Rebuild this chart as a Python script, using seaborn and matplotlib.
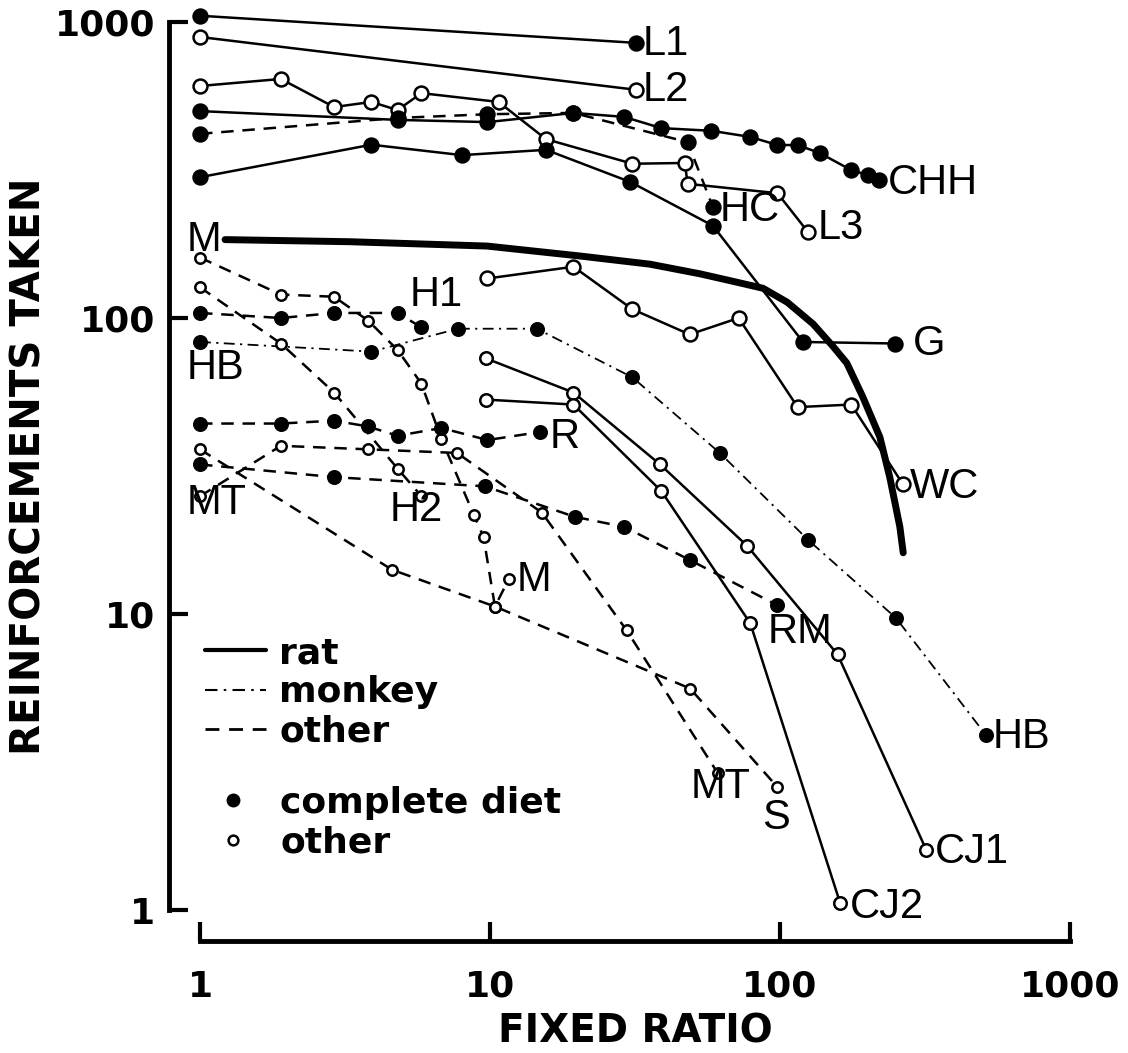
import matplotlib
matplotlib.use("Agg")
import matplotlib.pyplot as plt
from matplotlib.lines import Line2D
from matplotlib.ticker import NullLocator
import seaborn as sns

# ---------------- data ----------------
L1_x = [1, 32]
L1_y = [1050, 850]
L2_x = [1, 32]
L2_y = [890, 590]
L3_x = [1, 1.9, 2.9, 3.9, 4.8, 5.8, 10.7, 15.6, 31, 47, 48, 98, 125]
L3_y = [608, 642, 516, 537, 504, 575, 537, 402, 332, 334, 284, 264, 195]
CHH_x = [1, 4.8, 9.8, 19.4, 29, 39, 58, 79, 98, 115, 137, 176, 201, 219]
CHH_y = [500, 467, 459, 493, 478, 438, 429, 409, 384, 384, 361, 316, 304, 292]
HC_x = [1, 4.8, 9.8, 19.4, 48, 58.7]
HC_y = [419, 474, 488, 493, 393, 237]
G_x = [1, 3.9, 8, 15.6, 30.5, 58.7, 120, 250]
G_y = [299, 385, 355, 370, 288, 205, 83, 82]
CURVE_x = [1.22, 3.29, 9.77, 20.4, 35.6, 53, 68.9, 87.4, 106, 130, 152,
           170, 193, 221, 239, 259, 266]
CURVE_y = [184, 181, 175, 162, 152, 141, 133, 126, 113, 95.5, 80.4,
           70.4, 54.1, 39.6, 29, 19.7, 16.1]
WC_x = [9.8, 19.4, 31, 48.8, 72, 115, 176, 265]
WC_y = [136, 149, 107, 88, 100, 50, 51, 27.5]
HBm_x = [1, 3.9, 7.75, 14.5, 31, 62, 125, 251, 513]
HBm_y = [83, 77, 92, 92, 63, 35, 17.8, 9.7, 3.9]
H1_x = [1, 1.9, 2.9, 4.8, 5.8]
H1_y = [104, 100, 104, 104, 93]
M_x = [1, 1.9, 2.9, 3.8, 4.8, 5.8, 6.8, 8.8, 9.5, 10.4, 11.6]
M_y = [160, 120, 118, 98, 78, 60, 39, 21.6, 18.2, 10.6, 13.1]
H2_x = [1, 1.9, 2.9, 4.8, 5.8]
H2_y = [127, 82, 56, 31, 25]
R_x = [1, 1.9, 2.9, 3.8, 4.8, 6.8, 9.8, 14.9]
R_y = [44, 44, 45, 43, 40, 42.5, 38.7, 41.2]
MT_x = [1, 1.9, 3.8, 7.7, 15.1, 29.6, 61]
MT_y = [25, 37, 36, 35, 22, 8.8, 2.9]
S_x = [1, 4.6, 10.4, 49, 98]
S_y = [36, 14.1, 10.6, 5.6, 2.6]
RM_x = [1, 2.9, 9.6, 19.6, 29, 49, 98]
RM_y = [32, 29, 27, 21.3, 19.7, 15.2, 10.7]
CJ1_x = [9.7, 19.4, 38.6, 77, 158, 319]
CJ1_y = [73, 56, 32, 17, 7.3, 1.6]
CJ2_x = [9.7, 19.4, 39, 79, 161]
CJ2_y = [53, 51, 26, 9.3, 1.06]

x_ticks = [1, 10, 100, 1000]
y_ticks = [1, 10, 100, 1000]
x_tick_labels = ["1", "10", "100", "1000"]
y_tick_labels = ["1", "10", "100", "1000"]

labels = ["L1", "L2", "CHH", "HC", "L3", "M", "H1", "G", "HB", "R", "WC",
          "MT", "H2", "M", "RM", "HB", "MT", "S", "CJ1", "CJ2"]
label_x = [33.7, 33.7, 236, 62, 135, 0.9, 5.3, 288, 0.9, 16.1, 281,
           0.9, 4.5, 12.4, 91, 543, 49, 87, 342, 174]
label_y = [843, 589, 285, 232, 201, 184, 120, 82, 68, 39.6, 26.9,
           23.7, 22.4, 13, 8.7, 3.84, 2.6, 2.04, 1.57, 1.02]

# ---------------- style ----------------
sns.set_theme(style="ticks")
plt.rcParams["font.family"] = ["DejaVu Sans"]
plt.rcParams["text.color"] = "black"
plt.rcParams["axes.labelcolor"] = "black"
plt.rcParams["xtick.color"] = "black"
plt.rcParams["ytick.color"] = "black"

LS = {"rat": "-", "monkey": (0, (6, 3, 1.2, 3)), "other": (0, (5, 3.5))}
LW = {"rat": 1.8, "monkey": 1.3, "other": 1.8}

series = [
    (L1_x, L1_y, "rat", True, 10),
    (L2_x, L2_y, "rat", False, 10),
    (L3_x, L3_y, "rat", False, 10),
    (CHH_x, CHH_y, "rat", True, 10),
    (HC_x, HC_y, "other", True, 10),
    (G_x, G_y, "rat", True, 10),
    (WC_x, WC_y, "rat", False, 10),
    (HBm_x, HBm_y, "monkey", True, 9),
    (H1_x, H1_y, "other", True, 9),
    (M_x, M_y, "other", False, 7.5),
    (H2_x, H2_y, "other", False, 7.5),
    (R_x, R_y, "other", True, 9),
    (MT_x, MT_y, "other", False, 7.5),
    (S_x, S_y, "other", False, 7.5),
    (RM_x, RM_y, "other", True, 9),
    (CJ1_x, CJ1_y, "rat", False, 9),
    (CJ2_x, CJ2_y, "rat", False, 9),
]

fig = plt.figure(figsize=(11.28, 10.53), dpi=100)
ax = fig.add_axes([200 / 1128, 1 - 910 / 1053, 870 / 1128, 888 / 1053])
ax.set_xscale("log")
ax.set_yscale("log")

for xs, ys, kind, filled, ms in series:
    sns.lineplot(x=xs, y=ys, ax=ax, color="black", linestyle=LS[kind],
                 linewidth=LW[kind], marker="o", markersize=ms,
                 markerfacecolor="black" if filled else "white",
                 markeredgecolor="black", markeredgewidth=1.8,
                 sort=False, estimator=None, clip_on=False, legend=False)

sns.lineplot(x=CURVE_x, y=CURVE_y, ax=ax, color="black", linewidth=5,
             sort=False, estimator=None, clip_on=False, legend=False)

for t, lx, ly in zip(labels, label_x, label_y):
    ax.text(lx, ly, t, ha="left", va="center", fontsize=30,
            family="Liberation Sans", color="black", clip_on=False)

ax.set_xlim(1, 1000)
ax.set_ylim(1, 1000)
ax.set_xticks(x_ticks)
ax.set_yticks(y_ticks)
ax.xaxis.set_minor_locator(NullLocator())
ax.yaxis.set_minor_locator(NullLocator())

sns.despine(ax=ax, offset=22, trim=True)
for side in ("left", "bottom"):
    ax.spines[side].set_linewidth(3.5)
    ax.spines[side].set_color("black")

ax.set_xticks(x_ticks, labels=x_tick_labels, fontweight="bold", fontsize=26)
ax.set_yticks(y_ticks, labels=y_tick_labels, fontweight="bold", fontsize=26)
ax.xaxis.set_minor_locator(NullLocator())
ax.yaxis.set_minor_locator(NullLocator())
ax.tick_params(axis="both", direction="in", length=14, width=3,
               color="black", labelcolor="black")
ax.tick_params(axis="x", pad=21)
ax.tick_params(axis="y", pad=10)

ax.set_xlabel("FIXED RATIO", fontsize=28, fontweight="bold", labelpad=6,
              color="black")
ax.set_ylabel("REINFORCEMENTS TAKEN", fontsize=29, fontweight="bold",
              labelpad=4, color="black")
ax.grid(False)
ax.set_facecolor("white")

# legends
prop = {"weight": "bold", "size": 26}
h1 = [Line2D([], [], color="black", lw=3, ls=LS["rat"]),
      Line2D([], [], color="black", lw=1.5, ls=LS["monkey"]),
      Line2D([], [], color="black", lw=2, ls=LS["other"])]
leg1 = ax.legend(h1, ["rat", "monkey", "other"], loc="upper left",
                 bbox_to_anchor=(205 / 1128, 1 - 636 / 1053),
                 bbox_transform=fig.transFigure, frameon=False, prop=prop,
                 handlelength=1.7, handletextpad=0.35, labelspacing=0.15,
                 borderpad=0, borderaxespad=0, labelcolor="black")
ax.add_artist(leg1)
h2 = [Line2D([], [], ls="none", marker="o", ms=9, mfc="black", mec="black"),
      Line2D([], [], ls="none", marker="o", ms=7, mfc="white", mec="black",
             mew=1.8)]
ax.legend(h2, ["complete diet", "other"], loc="upper left",
          bbox_to_anchor=(215 / 1128, 1 - 786 / 1053),
          bbox_transform=fig.transFigure, frameon=False, prop=prop,
          handlelength=1.0, handletextpad=0.8, labelspacing=0.15,
          borderpad=0, borderaxespad=0, labelcolor="black")

fig.savefig("out.png", dpi=100, facecolor="white")
